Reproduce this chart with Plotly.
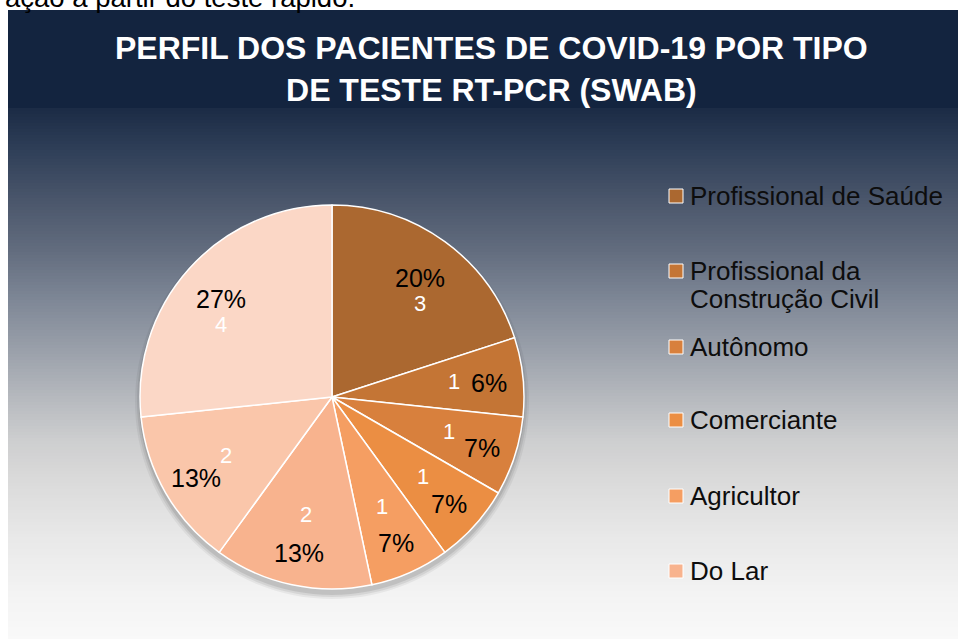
import math
import plotly.graph_objects as go

# ---------------- data ----------------
categories = ["Profissional de Saúde", "Profissional da Construção Civil", "Autônomo",
              "Comerciante", "Agricultor", "Do Lar", "Estudante", "Outros"]
legend_labels = ["Profissional de Saúde", "Profissional da<br>Construção Civil", "Autônomo",
                 "Comerciante", "Agricultor", "Do Lar"]
counts = [3, 1, 1, 1, 1, 2, 2, 4]
percent_labels = ["20%", "6%", "7%", "7%", "7%", "13%", "13%", "27%"]
colors = ["#AB6830", "#C47535", "#D8803D", "#EB8E43", "#F59E62", "#F8B38E", "#FAC6AA", "#FBD7C6"]
title_text = "PERFIL DOS PACIENTES DE COVID-19 POR TIPO<br>DE TESTE RT-PCR (SWAB)"
top_text = "ação a partir do teste rápido."

W, H = 961, 639
FONT = "Arial, Liberation Sans, sans-serif"


def px(x):
    return x / W


def py(y):
    return 1 - y / H


def hex2rgb(h):
    h = h.lstrip("#")
    return tuple(int(h[i:i + 2], 16) for i in (0, 2, 4))


# ---------------- background gradient ----------------
grad_stops = [(108, "#1B2B45"), (150, "#2F3F58"), (200, "#4A566B"), (250, "#626C7E"),
              (300, "#7E8796"), (350, "#9AA0AA"), (400, "#B7BABF"), (440, "#CDCECF"),
              (480, "#DADADA"), (540, "#E9E9E9"), (600, "#F4F4F4"), (639, "#F9F9F9")]


def grad_color(y):
    for (y0, c0), (y1, c1) in zip(grad_stops[:-1], grad_stops[1:]):
        if y0 <= y <= y1:
            t = (y - y0) / (y1 - y0)
            a, b = hex2rgb(c0), hex2rgb(c1)
            return "rgb(%d,%d,%d)" % tuple(round(a[i] + (b[i] - a[i]) * t) for i in range(3))
    return grad_stops[-1][1]


X0, X1 = 8, 958
shapes = []
shapes.append(dict(type="rect", xref="paper", yref="paper", x0=px(X0), x1=px(X1),
                   y0=py(108), y1=py(10), fillcolor="#13243F", line=dict(width=0), layer="below"))
step = 3
y = 108
while y < 639:
    y2 = min(y + step, 639)
    shapes.append(dict(type="rect", xref="paper", yref="paper", x0=px(X0), x1=px(X1),
                       y0=py(y2 + 0.5), y1=py(y), fillcolor=grad_color((y + y2) / 2),
                       line=dict(width=0), layer="below"))
    y = y2

# pie geometry
CX, CY, R = 332, 397, 192

# pie shadow
for dr, op in [(5, 0.05), (3, 0.07), (1, 0.09)]:
    shapes.append(dict(type="circle", xref="paper", yref="paper",
                       x0=px(CX - R - dr), x1=px(CX + R + dr),
                       y0=py(CY + 5 + R + dr), y1=py(CY + 5 - R - dr),
                       fillcolor="rgba(0,0,0,%.2f)" % op, line=dict(width=0), layer="below"))

fig = go.Figure()
fig.add_trace(go.Pie(
    labels=categories, values=counts, sort=False, direction="clockwise", rotation=0,
    marker=dict(colors=colors, line=dict(color="white", width=1.5)),
    textinfo="none", hoverinfo="label+value+percent", showlegend=False,
    domain=dict(x=[px(CX - R), px(CX + R)], y=[py(CY + R), py(CY - R)]),
))

annotations = []


def add_text(x, y, text, size, color, xanchor="center", yanchor="middle", align="center"):
    annotations.append(dict(x=px(x), y=py(y), xref="paper", yref="paper", text=text,
                            showarrow=False, xanchor=xanchor, yanchor=yanchor, align=align,
                            font=dict(family=FONT, size=size, color=color)))


# slice labels, placed along each slice's mid angle
total = sum(counts)
cum = 0
for v, pl in zip(counts, percent_labels):
    share = v / total
    mid = (cum + v / 2) / total * 2 * math.pi
    cum += v
    sx, sy = math.sin(mid), -math.cos(mid)
    if share > 0.15:
        pxx, pyy = CX + 0.78 * R * sx, CY + 0.78 * R * sy + 2
        cxx, cyy = pxx, pyy + 26
    else:
        pxx, pyy = CX + 0.82 * R * sx, CY + 0.82 * R * sy + 2
        cxx, cyy = CX + 0.64 * R * sx, CY + 0.64 * R * sy - 3
    add_text(pxx, pyy, pl, 25, "#000000")
    add_text(cxx, cyy, str(v), 22, "#FFFFFF")

# custom legend (first six categories)
leg_y = [196, 271, 347, 420, 496, 571]
for lab, col, ly in zip(legend_labels, colors, leg_y):
    shapes.append(dict(type="rect", xref="paper", yref="paper", x0=px(669), x1=px(683),
                       y0=py(ly + 7), y1=py(ly - 7), fillcolor=col,
                       line=dict(color="white", width=1)))
    for k, line in enumerate(lab.split("<br>")):
        add_text(688, ly + 28 * k, line, 26, "#0D0D0D", xanchor="left", align="left")

# title
add_text(491, 69, "<b>" + title_text + "</b>", 32, "#FFFFFF")
# cropped document text at the very top
add_text(3, 15, top_text, 27.5, "#000000", xanchor="left", yanchor="bottom", align="left")

fig.update_layout(
    width=W, height=H, margin=dict(l=0, r=0, t=0, b=0),
    paper_bgcolor="white", plot_bgcolor="white",
    shapes=shapes, annotations=annotations, showlegend=False,
)

fig.write_html("out.html", config={"displayModeBar": False},
               post_script="document.body.style.margin='0px';document.body.style.overflow='hidden';")
